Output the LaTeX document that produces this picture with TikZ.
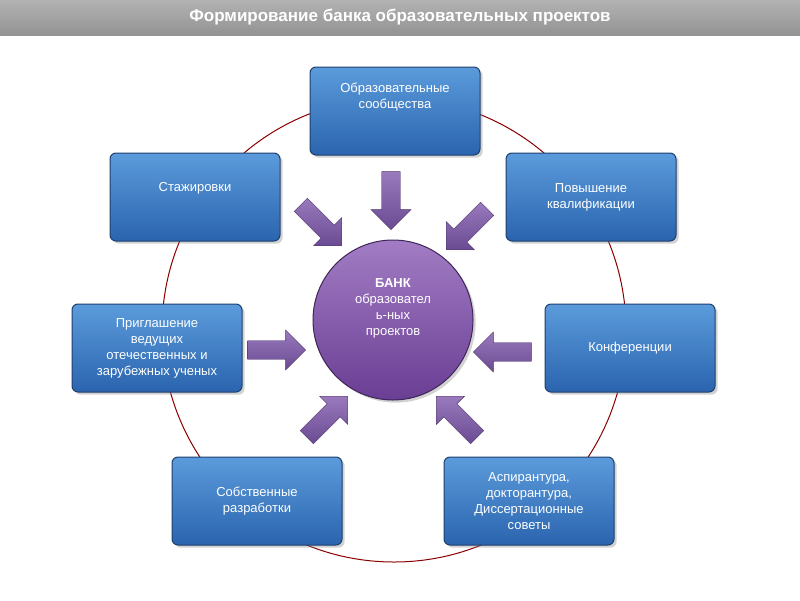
\documentclass[tikz,border=0pt]{standalone}
\usepackage{fontspec}
\setmainfont{Liberation Sans}
\usetikzlibrary{shapes.arrows,shadows}
\definecolor{btop}{HTML}{5B9BDB}
\definecolor{bbot}{HTML}{2A64AE}
\definecolor{bdr}{HTML}{1F3F6E}
\definecolor{ptop}{HTML}{A27CC4}
\definecolor{pbot}{HTML}{6A3E94}
\definecolor{atop}{HTML}{9A7ABD}
\definecolor{abot}{HTML}{6A4A92}
\begin{document}
\begin{tikzpicture}[x=1pt,y=-1pt,
  box/.style={draw=bdr,line width=1pt,rounded corners=6pt,minimum width=170pt,minimum height=88pt,align=center,text=white,font=\fontsize{13}{16}\selectfont,top color=btop,bottom color=bbot,drop shadow={opacity=0.35}},
  arr/.style={single arrow,draw=abot!70!black,top color=atop,bottom color=abot,minimum height=58pt,minimum width=40pt,single arrow head extend=6pt,inner sep=5pt,anchor=center}]
\useasboundingbox (0,0) rectangle (800,600);
\fill[white] (0,0) rectangle (800,600);
\shade[top color=gray!60,bottom color=gray!85] (0,0) rectangle (800,35);
\node[font=\bfseries\fontsize{17}{20}\selectfont,text=white] (t) at (400,17) {Формирование банка образовательных проектов};
\draw[red!55!black,line width=1pt] (394,330) circle (232);
\node[box] (b1) at (395,111) {Образовательные\\сообщества\\[14pt]};
\node[box] (b2) at (195,197) {Стажировки\\[4pt]};
\node[box] (b3) at (591,197) {Повышение\\квалификации};
\node[box] (b4) at (157,348) {Приглашение\\ведущих\\отечественных и\\зарубежных ученых};
\node[box] (b5) at (630,348) {Конференции};
\node[box] (b6) at (257,501) {Собственные\\разработки};
\node[box] (b7) at (529,501) {Аспирантура,\\докторантура,\\Диссертационные\\советы};
\node[circle,minimum size=160pt,draw=pbot!60!black,line width=1pt,top color=ptop,bottom color=pbot,align=center,text=white,font=\fontsize{13}{16}\selectfont,drop shadow={opacity=0.35}] (c) at (393,320) {\textbf{БАНК}\\образовател\\ь-ных\\проектов\\[10pt]};
\node[arr,rotate=-90] (a1) at (391,196) {};
\node[arr,rotate=-45] (a2) at (318,222) {};
\node[arr,rotate=-135] (a3) at (470,226) {};
\node[arr,rotate=0] (a4) at (272,350) {};
\node[arr,rotate=180] (a5) at (507,352) {};
\node[arr,rotate=45] (a6) at (324,420) {};
\node[arr,rotate=135] (a7) at (460,420) {};
\end{tikzpicture}
\end{document}
